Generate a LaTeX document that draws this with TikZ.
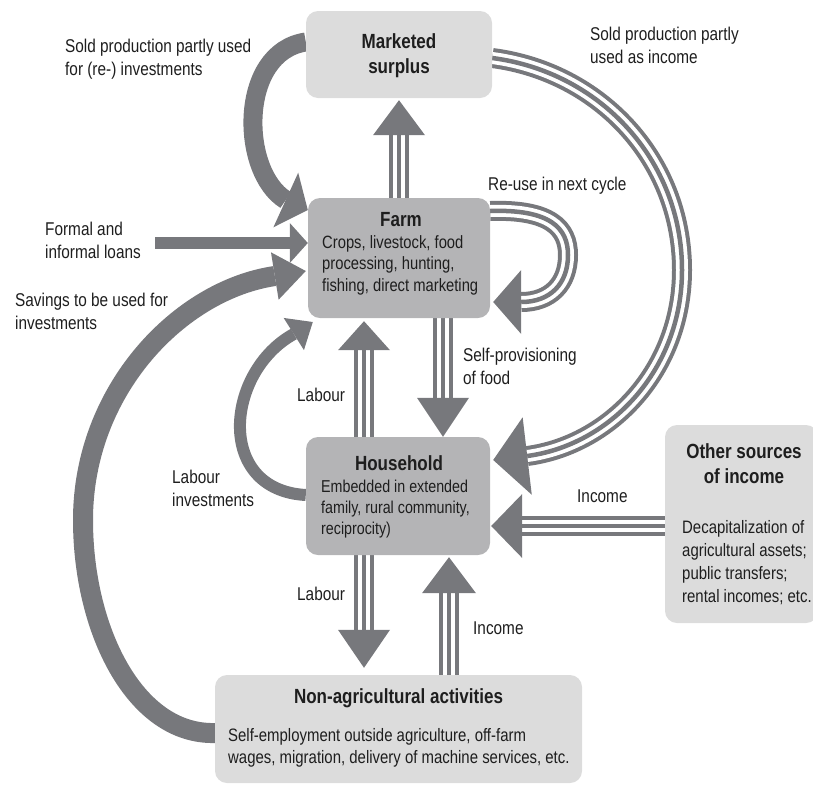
\documentclass[tikz,border=0pt]{standalone}
\usepackage{fontspec}
\setmainfont{Liberation Sans}[FakeStretch=0.83]
\usetikzlibrary{calc,backgrounds}
\definecolor{arr}{HTML}{77787C}
\definecolor{lightbox}{HTML}{DCDCDC}
\definecolor{midbox}{HTML}{B4B4B6}
\definecolor{txt}{HTML}{1E1E1E}
\newcommand\myhead[3]{\fill[arr] (#1) -- ($(#2)!#3!90:(#1)$) -- ($(#2)!#3!-90:(#1)$) -- cycle;}
\tikzset{
  box/.style={rounded corners=12pt, inner sep=0pt},
  lbox/.style={box, fill=lightbox},
  mbox/.style={box, fill=midbox},
  lbl/.style={inner sep=0pt, align=left, anchor=north west, text=txt, font=\fontsize{18.5}{23}\selectfont},
  ttl/.style={inner sep=0pt, align=center, anchor=north, text=txt, font=\bfseries\fontsize{20.5}{25}\selectfont},
  bdy/.style={inner sep=0pt, align=left, anchor=north west, text=txt, font=\fontsize{17.8}{21.7}\selectfont},
  triple/.style={draw=arr, line width=20pt, postaction={draw=white, line width=12pt}, postaction={draw=arr, line width=4.5pt}},
  thick19/.style={draw=arr, line width=19pt},
  thick20/.style={draw=arr, line width=20pt},
  thin12/.style={draw=arr, line width=12pt},
}
\begin{document}
\begin{tikzpicture}[x=1pt,y=-1pt]
\useasboundingbox (0,0) rectangle (813,785);
% boxes
\node[lbox, minimum width=186pt, minimum height=87pt] (ms) at (399,54.5) {};
\node[mbox, minimum width=182pt, minimum height=120pt] (farm) at (399,258) {};
\node[mbox, minimum width=184pt, minimum height=118pt] (hh) at (398,496) {};
\node[lbox, minimum width=153pt, minimum height=198pt] (other) at (741.5,524) {};
\node[lbox, minimum width=367pt, minimum height=108pt] (nonag) at (398.5,729) {};
% box texts
\node[ttl] (msT) at (399,33) {Marketed\\surplus};
\node[ttl] (farmT) at (401,212) {Farm};
\node[bdy] (farmB) at (322,235) {Crops, livestock, food\\processing, hunting,\\fishing, direct marketing};
\node[ttl] (hhT) at (399,455) {Household};
\node[bdy, font=\fontsize{17.2}{20.8}\selectfont] (hhB) at (321,480) {Embedded in extended\\family, rural community,\\reciprocity)};
\node[ttl] (otherT) at (744,443) {Other sources\\of income};
\node[bdy, font=\fontsize{18}{23}\selectfont] (otherB) at (682,520) {Decapitalization of\\agricultural assets;\\public transfers;\\rental incomes; etc.};
\node[ttl] (nonagT) at (398.5,688) {Non-agricultural activities};
\node[bdy, font=\fontsize{18}{22}\selectfont] (nonagB) at (228,728) {Self-employment outside agriculture, off-farm\\wages, migration, delivery of machine services, etc.};
% labels
\node[lbl] (l1) at (65,39) {Sold production partly used\\for (re-) investments};
\node[lbl] (l2) at (590,27) {Sold production partly\\used as income};
\node[lbl] (l3) at (488,177) {Re-use in next cycle};
\node[lbl] (l4) at (45,222) {Formal and\\informal loans};
\node[lbl] (l5) at (15,293) {Savings to be used for\\investments};
\node[lbl] (l6) at (297,388) {Labour};
\node[lbl] (l7) at (463,348) {Self-provisioning\\of food};
\node[lbl] (l8) at (172,470) {Labour\\investments};
\node[lbl] (l9) at (577,490) {Income};
\node[lbl] (l10) at (297,587) {Labour};
\node[lbl] (l11) at (473,622) {Income};
% connectors
\begin{scope}[on background layer]
% farm -> marketed surplus
\coordinate (At) at ($(ms.south)+(0,2)$);
\coordinate (Ab) at ($(At)+(0,35)$);
\draw[triple] (farm.north) -- (Ab);
\myhead{At}{Ab}{26pt}
% farm -> household (self-provisioning)
\coordinate (Bt) at ($(hh.north)+(45,0)$);
\coordinate (Bb) at ($(Bt)+(0,-39)$);
\draw[triple] (farm.south -| Bt) -- (Bb);
\myhead{Bt}{Bb}{26pt}
% household -> farm (labour)
\coordinate (Ct) at ($(farm.south)+(-35,3)$);
\coordinate (Cb) at ($(Ct)+(0,29)$);
\draw[triple] (hh.north -| Ct) -- (Cb);
\myhead{Ct}{Cb}{26pt}
% household -> non-agricultural (labour)
\coordinate (Dt) at ($(nonag.north)+(-34.5,-7)$);
\coordinate (Db) at ($(Dt)+(0,-38)$);
\draw[triple] (hh.south -| Dt) -- (Db);
\myhead{Dt}{Db}{26pt}
% non-agricultural -> household (income)
\coordinate (Et) at ($(hh.south)+(51,2)$);
\coordinate (Eb) at ($(Et)+(0,36)$);
\draw[triple] (nonag.north -| Et) -- (Eb);
\myhead{Et}{Eb}{27pt}
% other -> household (income)
\coordinate (Ft) at ($(hh.east)+(1,30)$);
\coordinate (Fb) at ($(Ft)+(31,0)$);
\draw[triple] (other.west |- Ft) -- (Fb);
\myhead{Ft}{Fb}{32pt}
% marketed surplus -> household (big arc)
\coordinate (Gt) at ($(hh.east)+(3,-36)$);
\coordinate (Gb) at ($(Gt)+(34,-4)$);
\draw[triple] ($(ms.east)+(0,3.5)$) .. controls (600,72) and (682,160) .. (682,270) .. controls (682,370) and (610,445) .. (Gb);
\myhead{Gt}{Gb}{39pt}
% re-use loop
\coordinate (Ht) at ($(farm.east)+(3,44)$);
\coordinate (Hb) at ($(Ht)+(28,0)$);
\draw[triple] ($(farm.east)+(0,-47)$) .. controls (550,209) and (568,228) .. (568,255) .. controls (568,284) and (550,302) .. (Hb);
\myhead{Ht}{Hb}{32pt}
% re-investments
\coordinate (It) at ($(farm.west)+(0,-48)$);
\coordinate (Ib) at ($(It)+(-22,-10)$);
\draw[thick19] ($(ms.west)+(0,-12.5)$) .. controls (238,52) and (240,172) .. (Ib);
\myhead{It}{Ib}{30pt}
% loans
\coordinate (Jt) at ($(farm.west)+(0,-15)$);
\coordinate (Jb) at ($(Jt)+(-18,0)$);
\coordinate (Js) at (155,243);
\draw[thin12] (Js) -- (Jb);
\myhead{Jt}{Jb}{20pt}
% savings
\coordinate (Kt) at ($(farm.west)+(-2,13)$);
\coordinate (Kb) at ($(Kt)+(-31,5)$);
\draw[thick20] ($(nonag.west)+(0,4)$) .. controls (135,735) and (83,630) .. (83,520) .. controls (83,390) and (180,290) .. (Kb);
\myhead{Kt}{Kb}{24pt}
% labour investments
\coordinate (Lt) at ($(farm.west)+(5,64)$);
\coordinate (Lb) at ($(Lt)+(-19,12)$);
\draw[thin12] ($(hh.west)+(0,-1)$) .. controls (215,490) and (225,372) .. (Lb);
\myhead{Lt}{Lb}{19pt}
\end{scope}
\end{tikzpicture}
\end{document}
